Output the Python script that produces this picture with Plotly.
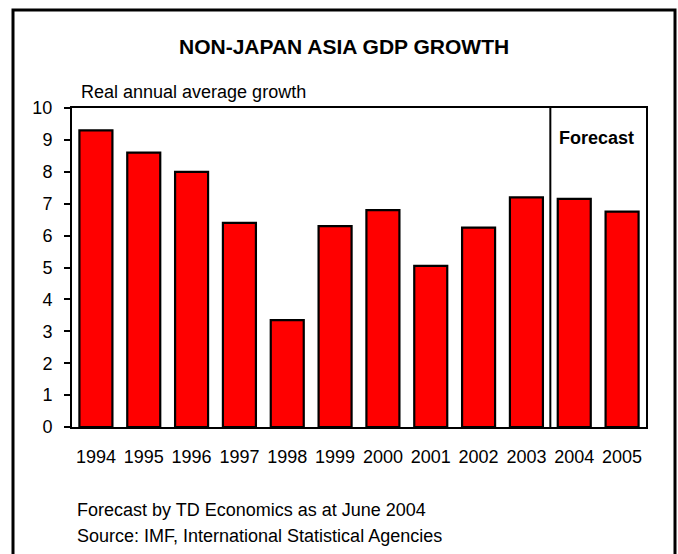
import plotly.graph_objects as go

years = ["1994", "1995", "1996", "1997", "1998", "1999",
         "2000", "2001", "2002", "2003", "2004", "2005"]
growth = [9.3, 8.6, 8.0, 6.4, 3.35, 6.3, 6.8, 5.05, 6.25, 7.2, 7.15, 6.75]
y_ticks = list(range(0, 11))

FONT = "Liberation Sans, Arial, sans-serif"

# plot-area geometry in pixels
W, H = 678, 554
L, R, T, B = 72, 32, 108, 127
PW, PH = W - L - R, H - T - B


def px_x(x):
    return (x - L) / PW


def px_y(y):
    return 1 - (y - T) / PH


fig = go.Figure(
    go.Bar(
        x=list(range(len(years))),
        y=growth,
        marker=dict(color="#FF0000", line=dict(color="black", width=2.2)),
        hoverinfo="x+y",
    )
)

fig.update_layout(
    width=W,
    height=H,
    margin=dict(l=L, r=R, t=T, b=B),
    paper_bgcolor="white",
    plot_bgcolor="white",
    bargap=0.31,
    showlegend=False,
    font=dict(family=FONT, size=18, color="black"),
)

fig.update_xaxes(
    tickmode="array",
    tickvals=list(range(len(years))),
    ticktext=years,
    range=[-0.5, len(years) - 0.5],
    showline=True,
    linecolor="black",
    linewidth=2,
    mirror=True,
    ticks="",
    showgrid=False,
    zeroline=False,
    ticklabelstandoff=12,
    tickfont=dict(family=FONT, size=18, color="black"),
)

fig.update_yaxes(
    range=[0, 10],
    tickmode="array",
    tickvals=y_ticks,
    showline=True,
    linecolor="black",
    linewidth=2,
    mirror=True,
    ticks="outside",
    ticklen=6,
    tickwidth=2,
    tickcolor="black",
    showgrid=False,
    zeroline=False,
    ticklabelstandoff=8,
    tickfont=dict(family=FONT, size=18, color="black"),
)

shapes = [
    # forecast divider between 2003 and 2004
    dict(type="line", xref="x", yref="y", x0=9.5, x1=9.5, y0=-0.06, y1=10,
         line=dict(color="black", width=2)),
    # outer frame
    dict(type="rect", xref="paper", yref="paper",
         x0=px_x(13), x1=px_x(675), y0=px_y(570), y1=px_y(10),
         line=dict(color="black", width=3), layer="above"),
]
fig.update_layout(shapes=shapes)

annotations = [
    dict(text="<b>NON-JAPAN ASIA GDP GROWTH</b>", x=px_x(344), y=px_y(46),
         xanchor="center", yanchor="middle", font=dict(size=21)),
    dict(text="Real annual average growth", x=px_x(79), y=px_y(92),
         xanchor="left", yanchor="middle", font=dict(size=18)),
    dict(text="<b>Forecast</b>", x=px_x(596), y=px_y(138),
         xanchor="center", yanchor="middle", font=dict(size=18)),
    dict(text="Forecast by TD Economics as at June 2004", x=px_x(75), y=px_y(510),
         xanchor="left", yanchor="middle", font=dict(size=18)),
    dict(text="Source: IMF, International Statistical Agencies", x=px_x(75), y=px_y(536),
         xanchor="left", yanchor="middle", font=dict(size=18)),
]
for a in annotations:
    a.update(xref="paper", yref="paper", showarrow=False)
fig.update_layout(annotations=annotations)

fig.write_html("out.html")
